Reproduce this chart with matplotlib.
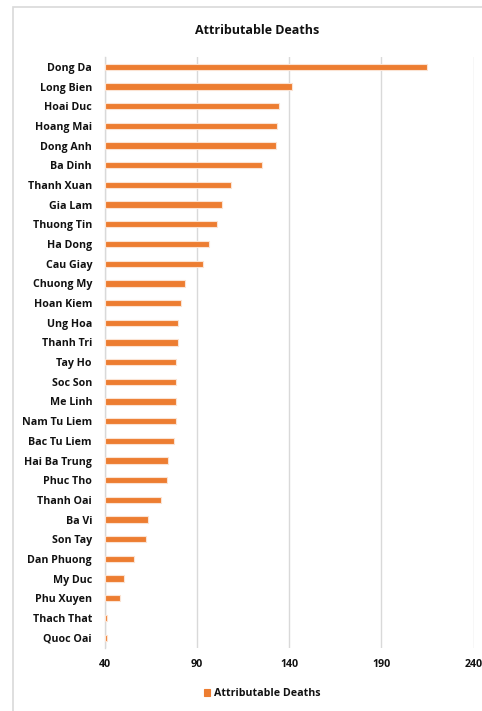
import matplotlib
matplotlib.use("Agg")
import matplotlib.pyplot as plt
from matplotlib.patches import Rectangle

districts = [
    "Dong Da", "Long Bien", "Hoai Duc", "Hoang Mai", "Dong Anh", "Ba Dinh",
    "Thanh Xuan", "Gia Lam", "Thuong Tin", "Ha Dong", "Cau Giay", "Chuong My",
    "Hoan Kiem", "Ung Hoa", "Thanh Tri", "Tay Ho", "Soc Son", "Me Linh",
    "Nam Tu Liem", "Bac Tu Liem", "Hai Ba Trung", "Phuc Tho", "Thanh Oai",
    "Ba Vi", "Son Tay", "Dan Phuong", "My Duc", "Phu Xuyen", "Thach That",
    "Quoc Oai",
]
deaths = [
    214.8, 141.7, 134.8, 133.7, 132.8, 125.6,
    108.6, 103.8, 100.9, 96.7, 93.5, 83.7,
    81.5, 79.7, 79.6, 78.5, 78.5, 78.5,
    78.5, 77.6, 74.5, 74.0, 70.7,
    63.7, 62.6, 55.9, 50.7, 48.5, 41.5,
    41.5,
]
x_ticks = [40, 90, 140, 190, 240]
series_name = "Attributable Deaths"

plt.rcParams["font.family"] = ["Open Sans", "DejaVu Sans"]
W, H = 482, 711
fig = plt.figure(figsize=(W / 100, H / 100), dpi=100)
fig.patch.set_facecolor("white")

# chart frame
fig.add_artist(Rectangle((13 / W, -0.1), 1.2, (H - 7) / H + 0.1,
                         transform=fig.transFigure, fill=False,
                         edgecolor="#d9d9d9", linewidth=1.2))

left, right = 104.5 / W, 473.5 / W
top, bottom = 1 - 57 / H, 1 - 647.5 / H
ax = fig.add_axes([left, bottom, right - left, top - bottom])

orange = "#ED7D31"
y = list(range(len(districts)))
ax.barh(y, [d - x_ticks[0] for d in deaths], left=x_ticks[0], height=0.32,
        color=orange, edgecolor="#fbe3d3", linewidth=0.8, label=series_name,
        zorder=3)
ax.set_ylim(len(districts) - 0.5, -0.5)
ax.set_xlim(x_ticks[0], x_ticks[-1])
ax.set_xticks(x_ticks)
ax.set_yticks(y)
ax.set_yticklabels(districts, fontsize=7.7, fontweight="bold", color="#111111")
ax.set_xticklabels([str(t) for t in x_ticks], fontsize=7.7, fontweight="bold",
                   color="#111111")
ax.tick_params(axis="both", length=0)
ax.tick_params(axis="y", pad=9)
ax.tick_params(axis="x", pad=8)
ax.xaxis.grid(True, color="#d9d9d9", linewidth=1.0, zorder=0)
ax.set_axisbelow(True)
for s in ["top", "right", "bottom"]:
    ax.spines[s].set_visible(False)
ax.spines["left"].set_color("#d9d9d9")
ax.spines["left"].set_linewidth(1.0)
for lbl in ax.get_xticklabels():
    lbl.set_clip_on(False)

fig.text(257 / W, 1 - 30 / H, series_name, ha="center", va="center",
         fontsize=9, fontweight="bold", color="#111111")

handles, labels = ax.get_legend_handles_labels()
leg = fig.legend(handles, labels, loc="center", bbox_to_anchor=(262 / W, 1 - 694 / H),
                 frameon=False, handlelength=0.6, handleheight=0.6,
                 handletextpad=0.3,
                 prop={"size": 7.7, "weight": "bold"})
for t in leg.get_texts():
    t.set_color("#111111")
for p in leg.get_patches():
    p.set_edgecolor(orange)

fig.savefig("out.png", dpi=100, facecolor="white")
